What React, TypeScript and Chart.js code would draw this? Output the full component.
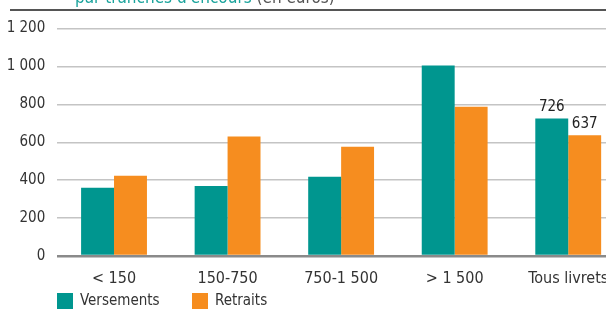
import React, { useEffect, useRef } from "react";
import { Chart, registerables } from "chart.js";

Chart.register(...registerables);

const categories = ["< 150", "150-750", "750-1 500", "> 1 500", "Tous livrets"];
const versements = [360, 370, 418, 1005, 726];
const retraits = [423, 630, 577, 788, 637];
const seriesNames = ["Versements", "Retraits"];
const yTicks = [0, 200, 400, 600, 800, 1000, 1200];
const titleMain = "par tranches d'encours";
const titleUnit = "(en euros)";

const TEAL = "#00968f";
const ORANGE = "#f68d1f";
const FONT = "'Liberation Sans Narrow', 'DejaVu Sans Condensed', sans-serif";

const fmt = (v: number) => String(v).replace(/\B(?=(\d{3})+(?!\d))/g, " ");

export default function App() {
  const ref = useRef<HTMLCanvasElement | null>(null);

  useEffect(() => {
    if (!ref.current) return;
    const extras = {
      id: "extras",
      afterDraw(chart: any) {
        const ctx = chart.ctx;
        ctx.save();
        // title (cut at top)
        ctx.font = `17px ${FONT}`;
        ctx.textBaseline = "alphabetic";
        ctx.textAlign = "left";
        ctx.fillStyle = "#1aa39c";
        ctx.fillText(titleMain, 75, 3);
        const w = ctx.measureText(titleMain + " ").width;
        ctx.fillStyle = "#555";
        ctx.fillText(titleUnit, 75 + w, 3);
        ctx.strokeStyle = "#555";
        ctx.lineWidth = 2;
        ctx.beginPath();
        ctx.moveTo(10, 10);
        ctx.lineTo(chart.width, 10);
        ctx.stroke();
        // value labels on last category
        const last = categories.length - 1;
        ctx.font = `15px ${FONT}`;
        ctx.fillStyle = "#222";
        ctx.textAlign = "center";
        ctx.textBaseline = "bottom";
        [0, 1].forEach((di) => {
          const el = chart.getDatasetMeta(di).data[last];
          const val = chart.data.datasets[di].data[last];
          ctx.fillText(String(val), el.x, el.y - 4);
        });
        // legend
        const items = [
          { label: seriesNames[0], color: TEAL, x: 57 },
          { label: seriesNames[1], color: ORANGE, x: 192 },
        ];
        ctx.textAlign = "left";
        ctx.textBaseline = "middle";
        ctx.font = `15px ${FONT}`;
        items.forEach((it) => {
          ctx.fillStyle = it.color;
          ctx.fillRect(it.x, 293, 16, 16);
          ctx.fillStyle = "#333";
          ctx.fillText(it.label, it.x + 23, 301);
        });
        ctx.restore();
      },
    };

    const chart = new Chart(ref.current, {
      type: "bar",
      data: {
        labels: categories,
        datasets: [
          { label: seriesNames[0], data: versements, backgroundColor: TEAL },
          { label: seriesNames[1], data: retraits, backgroundColor: ORANGE },
        ],
      },
      options: {
        animation: false,
        responsive: false,
        layout: { padding: { top: 28.6, right: 15, bottom: 25, left: 0 } },
        datasets: { bar: { categoryPercentage: 0.58, barPercentage: 1 } },
        plugins: { legend: { display: false }, tooltip: { enabled: false } },
        scales: {
          x: {
            grid: { display: false },
            border: { display: false },
            ticks: { color: "#333", font: { family: FONT, size: 16 }, padding: 5, maxRotation: 0 },
            afterFit: (s: any) => {
              s.height = 28;
            },
          },
          y: {
            min: 0,
            max: 1200,
            border: { display: false },
            grid: {
              drawTicks: false,
              color: (c: any) => (c.tick && c.tick.value === 0 ? "#8a8a8a" : "#c4c4c4"),
              lineWidth: (c: any) => (c.tick && c.tick.value === 0 ? 2.5 : 1.5),
            },
            afterBuildTicks: (s: any) => {
              s.ticks = yTicks.map((v) => ({ value: v }));
            },
            ticks: {
              color: "#333",
              font: { family: FONT, size: 15 },
              padding: 12,
              callback: (v: any) => fmt(Number(v)),
            },
            afterFit: (s: any) => {
              s.width = 57.25;
            },
          },
        },
      },
      plugins: [extras],
    });
    return () => chart.destroy();
  }, []);

  return (
    <div style={{ position: "absolute", left: 0, top: 0, width: 606, height: 309, overflow: "hidden", background: "#fff" }}>
      <canvas ref={ref} width={640} height={309} style={{ width: 640, height: 309, display: "block" }} />
    </div>
  );
}
